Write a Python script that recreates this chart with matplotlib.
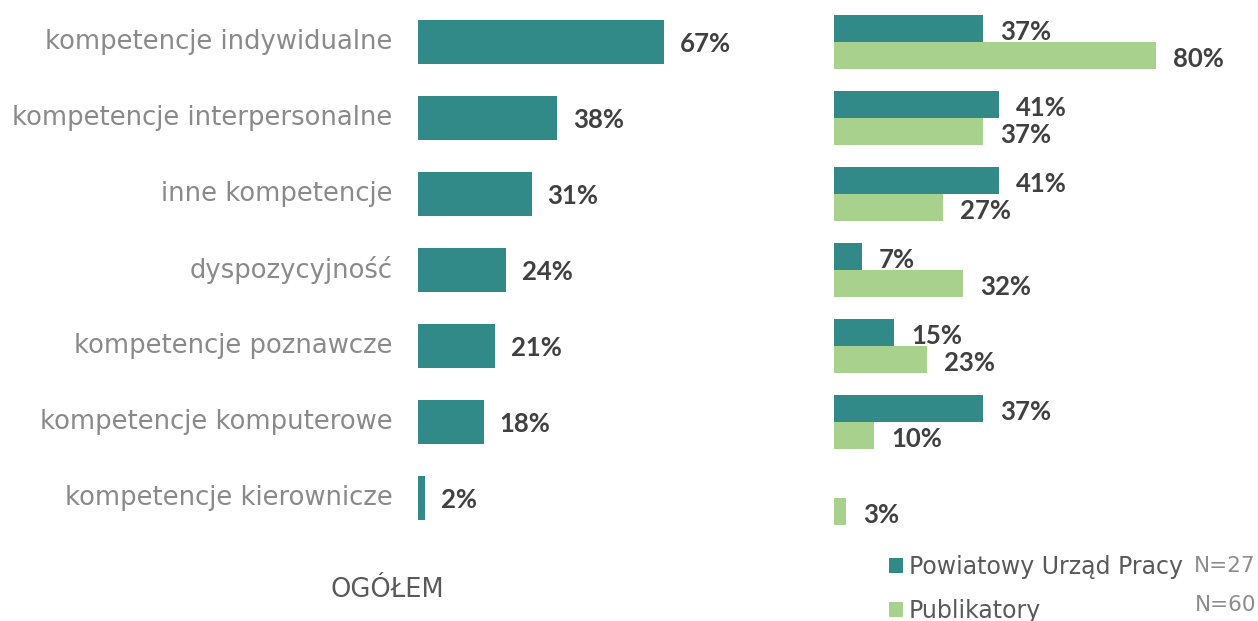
import matplotlib
matplotlib.use("Agg")
import matplotlib.pyplot as plt
import numpy as np

categories = ["kompetencje indywidualne", "kompetencje interpersonalne", "inne kompetencje",
              "dyspozycyjność", "kompetencje poznawcze", "kompetencje komputerowe",
              "kompetencje kierownicze"]
ogolem = [67, 38, 31, 24, 21, 18, 2]
pup = [37, 41, 41, 7, 15, 37, 0]
publikatory = [80, 37, 27, 32, 23, 10, 3]
series_names = ["Powiatowy Urząd Pracy", "Publikatory"]
n_labels = ["N=27", "N=60"]
title_left = "OGÓŁEM"

TEAL = "#318a87"
GREEN = "#a9d18e"
CAT_C = "#8a8a8a"
VAL_C = "#404040"

W, H = 1258, 621
fig = plt.figure(figsize=(W / 100, H / 100), dpi=100)

def px_axes(x0, y0, x1, y1):
    return fig.add_axes([x0 / W, 1 - y1 / H, (x1 - x0) / W, (y1 - y0) / H])

y = np.arange(len(categories))
axL = px_axes(418, 4, 418 + 367, 536)
axL.barh(y, ogolem, height=0.57, color=TEAL)
axL.set_xlim(0, 100)
axL.set_ylim(6.5, -0.5)
for i, v in enumerate(ogolem):
    axL.text(v + 4.3, i + 0.03, f"{v}%", va="center", ha="left", fontsize=18.5,
             fontweight="bold", color=VAL_C, family="Lato")
for i, c in enumerate(categories):
    axL.text(-7, i, c, va="center", ha="right", fontsize=18.6, color=CAT_C,
             family="DejaVu Sans", transform=axL.transData)
axL.axis("off")

axR = px_axes(834, 4, 834 + 403, 536)
off = 0.178
b1 = axR.barh(y - off, pup, height=0.355, color=TEAL, label=series_names[0])
b2 = axR.barh(y + off, publikatory, height=0.355, color=GREEN, label=series_names[1])
axR.set_xlim(0, 100)
axR.set_ylim(6.5, -0.5)
for i, v in enumerate(pup):
    if v > 0:
        axR.text(v + 4.2, i - off + 0.04, f"{v}%", va="center", ha="left", fontsize=18.5,
                 fontweight="bold", color=VAL_C, family="Lato")
for i, v in enumerate(publikatory):
    axR.text(v + 4.2, i + off + 0.04, f"{v}%", va="center", ha="left", fontsize=18.5,
             fontweight="bold", color=VAL_C, family="Lato")
axR.axis("off")

fig.text(387 / W, 1 - 590 / H, title_left, ha="center", va="center", fontsize=18.5,
         color="#595959", family="DejaVu Sans")

fig.legend(handles=[b1, b2], labels=series_names, loc="upper left",
           bbox_to_anchor=(889 / W, 1 - 555 / H), frameon=False, fontsize=17,
           handlelength=0.6, handleheight=0.6, handletextpad=0.25, labelspacing=0.85,
           borderaxespad=0, borderpad=0, labelcolor="#595959")
fig.text(1256 / W, 1 - 566 / H, n_labels[0], ha="right", va="center", fontsize=15.5,
         color="#8c8c8c", family="DejaVu Sans")
fig.text(1256 / W, 1 - 605 / H, n_labels[1], ha="right", va="center", fontsize=15.5,
         color="#8c8c8c", family="DejaVu Sans")

fig.savefig("out.png", dpi=100)
